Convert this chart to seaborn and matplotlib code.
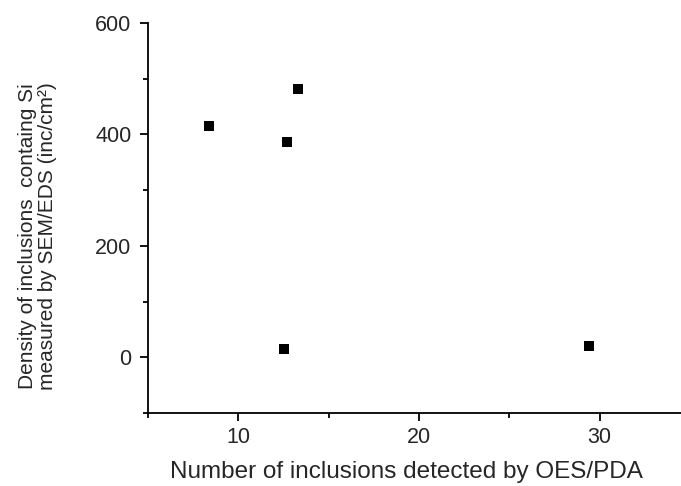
import numpy as np
import pandas as pd
import seaborn as sns
import matplotlib.pyplot as plt
from matplotlib.ticker import MultipleLocator

# dados
oes_pda = [8.4, 13.3, 12.7, 12.5, 29.4]
sem_eds = [415, 481, 387, 15, 20]

df = pd.DataFrame({'oes': oes_pda, 'sem': sem_eds})

sns.set_style('ticks')
plt.rcParams['font.family'] = ['Liberation Sans', 'DejaVu Sans']

fig = plt.figure(figsize=(6.81, 4.86), dpi=100)
ax = fig.add_axes([148/681, 73/486, 542/681, 390/486])

sns.scatterplot(data=df, x='oes', y='sem', marker='s', color='black',
                s=45, edgecolor='black', linewidth=0, ax=ax)

ax.set_xlim(5, 35)
ax.set_ylim(-100, 600)
ax.xaxis.set_minor_locator(MultipleLocator(5))
ax.yaxis.set_minor_locator(MultipleLocator(100))
ax.set_xticks([10, 20, 30])
ax.set_yticks([0, 200, 400, 600])

sns.despine(ax=ax)
for s in ['left', 'bottom']:
    ax.spines[s].set_linewidth(1.3)
    ax.spines[s].set_color('black')
ax.tick_params(which='major', length=6, width=1.3, color='black')
ax.tick_params(which='minor', length=3.5, width=1.3, color='black')
ax.tick_params(axis='x', labelsize=15.5, pad=4)
ax.tick_params(axis='y', labelsize=15.5, pad=6)

ax.set_xlabel('Number of inclusions detected by OES/PDA', fontsize=17.5)
ax.set_ylabel('Density of inclusions  containg Si\nmeasured by SEM/EDS (inc/cm²)',
              fontsize=15, linespacing=1.05)
# posições dos rótulos ajustadas à mão
ax.xaxis.set_label_coords(0.476, -0.122)
ax.yaxis.set_label_coords(-0.168, 0.454)

fig.savefig('out.png', dpi=100)
